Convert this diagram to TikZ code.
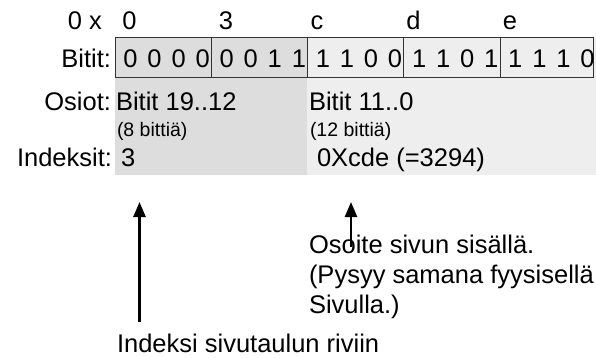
\documentclass[tikz,border=0pt]{standalone}
\usepackage{fontspec}
\setmainfont{Liberation Sans}
\usetikzlibrary{arrows.meta}
\definecolor{leftgray}{HTML}{DDDDDD}
\definecolor{rightgray}{HTML}{EEEEEE}
\definecolor{linegray}{HTML}{333333}
\begin{document}
\begin{tikzpicture}[x=1pt,y=-1pt,
  big/.style={font=\fontsize{25.5}{30}\selectfont, inner sep=0pt, outer sep=0pt},
  small/.style={font=\fontsize{19.5}{22}\selectfont, inner sep=0pt, outer sep=0pt},
  lbl/.style={big, anchor=base east},
  txt/.style={big, anchor=base west},
  stxt/.style={small, anchor=base west},
  bitdigit/.style={big, anchor=base},
  cellline/.style={draw=linegray, line width=1pt},
  uparrow/.style={line width=2.5pt, -{Triangle[length=15pt,width=12pt]}}]
\useasboundingbox (0,0) rectangle (596,358);
% background regions
\fill[leftgray] (115,38) rectangle (307,175);
\fill[rightgray] (307,38) rectangle (596,175);
% bit row box
\draw[cellline] (115,38) rectangle (593,78);
\foreach \x in {211,307,403,500} \draw[cellline] (\x,38) -- (\x,78);
% bit digits
\foreach \d [count=\i from 0] in {0,0,0,0,0,0,1,1,1,1,0,0,1,1,0,1,1,1,1,0}
  \node[bitdigit] (bit\i) at (130.5+24.05*\i,68) {\d};
% header
\node[lbl] (hex) at (102,30) {0 x};
\node[bitdigit] (h0) at (129.5,30) {0};
\node[bitdigit] (h1) at (226,30) {3};
\node[bitdigit] (h2) at (317,30) {c};
\node[bitdigit] (h3) at (413.5,30) {d};
\node[bitdigit] (h4) at (510,30) {e};
% row labels
\node[lbl] (lbits) at (111,68) {Bitit:};
\node[lbl] (losiot) at (111,111) {Osiot:};
\node[lbl] (lindex) at (112,167) {Indeksit:};
% left section
\node[txt] (b1912) at (116,111) {Bitit 19..12};
\node[stxt] (b8) at (117,137) {(8 bittiä)};
\node[txt] (i3) at (121,167) {3};
% right section
\node[txt] (b110) at (309,111) {Bitit 11..0};
\node[stxt] (b12) at (310,137) {(12 bittiä)};
\node[txt] (icde) at (317,167) {0Xcde (=3294)};
% bottom texts
\node[txt] (os1) at (309,253) {Osoite sivun sisällä.};
\node[txt] (os2) at (309,283) {(Pysyy samana fyysisellä};
\node[txt] (os3) at (309,313) {Sivulla.)};
\node[txt] (ind) at (117,352) {Indeksi sivutaulun riviin};
% arrows
\coordinate (a1s) at (139.5,322);
\coordinate (a1e) at (139.5,202);
\coordinate (a2s) at (351,247);
\coordinate (a2e) at (351,202);
\draw[uparrow] (a1s) -- (a1e);
\draw[uparrow] (a2s) -- (a2e);
\end{tikzpicture}
\end{document}
